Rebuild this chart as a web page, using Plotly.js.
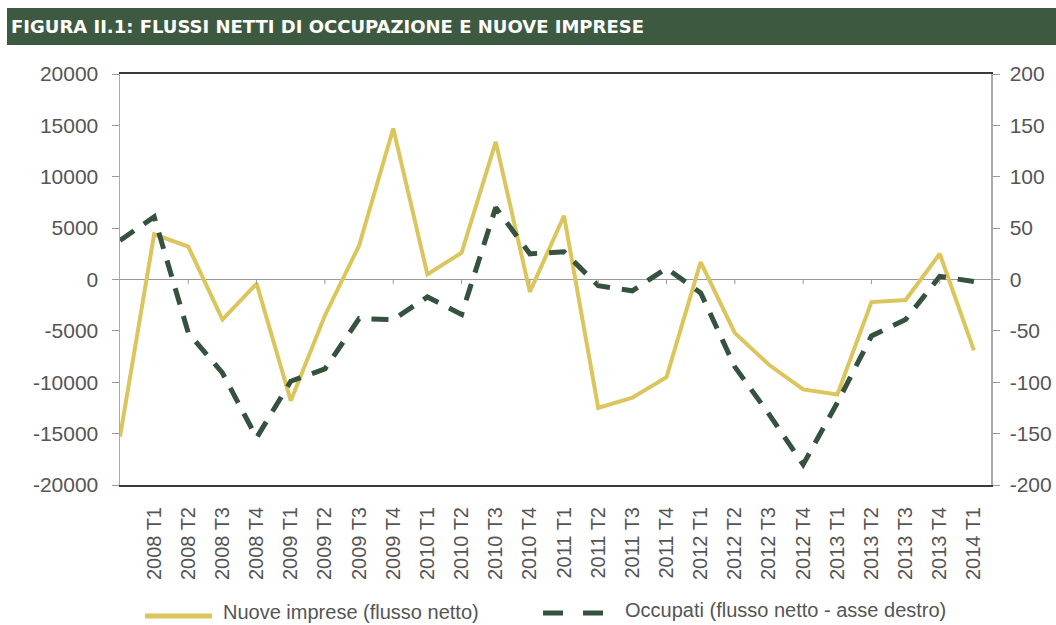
<!DOCTYPE html>
<html>
<head>
<meta charset="utf-8">
<script src="https://cdn.plot.ly/plotly-3.0.1.min.js"></script>
<style>
  html, body { margin: 0; padding: 0; background: #ffffff; }
  #chart { width: 1056px; height: 625px; }
</style>
</head>
<body>
<div id="chart"></div>
<script>
// Tick labels (the first plotted point, one quarter before 2008 T1, has no label)
const tickLabels = [
  "2008 T1","2008 T2","2008 T3","2008 T4",
  "2009 T1","2009 T2","2009 T3","2009 T4",
  "2010 T1","2010 T2","2010 T3","2010 T4",
  "2011 T1","2011 T2","2011 T3","2011 T4",
  "2012 T1","2012 T2","2012 T3","2012 T4",
  "2013 T1","2013 T2","2013 T3","2013 T4",
  "2014 T1"
];

// Nuove imprese (flusso netto) - left axis
const nuoveImprese = [
  -15300, 4400, 3200, -3900, -400, -11800, -3500, 3300, 14700, 500,
  2600, 13400, -1200, 6200, -12500, -11500, -9500, 1700, -5200, -8300,
  -10700, -11200, -2200, -2000, 2500, -6900
];

// Occupati (flusso netto - asse destro) - right axis
const occupati = [
  38, 61, -52, -91, -154, -99, -87, -38, -39, -17,
  -34, 70, 25, 27, -6, -11, 11, -13, -85, -131,
  -180, -120, -55, -39, 3, -2
];

const seriesNames = ["Nuove imprese (flusso netto)", "Occupati (flusso netto - asse destro)"];
const titleText = "FIGURA II.1: FLUSSI NETTI DI OCCUPAZIONE E NUOVE IMPRESE";

const leftTicks = [-20000, -15000, -10000, -5000, 0, 5000, 10000, 15000, 20000];
const leftTickText = ["-20000", "-15000", "-10000", "-5000", "0", "5000", "10000", "15000", "20000"];
const rightTicks = [-200, -150, -100, -50, 0, 50, 100, 150, 200];
const rightTickText = ["-200", "-150", "-100", "-50", "0", "50", "100", "150", "200"];

const xIdx = nuoveImprese.map((_, i) => i);
const tickVals = tickLabels.map((_, i) => i + 1);

const yellow = "#dcc55c";
const green = "#35523f";
const font = "Liberation Sans, Arial, sans-serif";
const textGrey = "#555555";

const traces = [
  {
    x: xIdx, y: nuoveImprese, type: "scatter", mode: "lines",
    name: seriesNames[0], line: { color: yellow, width: 4 },
    xaxis: "x", yaxis: "y", showlegend: false
  },
  {
    x: xIdx, y: occupati, type: "scatter", mode: "lines",
    name: seriesNames[1], line: { color: green, width: 5, dash: "17px,12px" },
    xaxis: "x", yaxis: "y2", showlegend: false
  }
];

// paper-coordinate helpers (plot area: x 120..991, y 74..485)
const L = 120, R = 991, T = 74, B = 485;
const px = v => (v - L) / (R - L);
const py = v => (B - v) / (B - T);

const shapes = [
  // title banner
  { type: "rect", xref: "paper", yref: "paper", layer: "below",
    x0: px(7), x1: px(1060), y0: py(45), y1: py(8),
    fillcolor: "#3d5a41", line: { width: 0 } },
  // legend samples
  { type: "line", xref: "paper", yref: "paper",
    x0: px(145), x1: px(212), y0: py(616), y1: py(616),
    line: { color: yellow, width: 5 } },
  { type: "line", xref: "paper", yref: "paper",
    x0: px(543), x1: px(563), y0: py(613), y1: py(613),
    line: { color: green, width: 5 } },
  { type: "line", xref: "paper", yref: "paper",
    x0: px(583), x1: px(603), y0: py(613), y1: py(613),
    line: { color: green, width: 5 } }
];

// small tick marks on the zero line, every second category
for (let i = 2; i < xIdx.length; i += 2) {
  shapes.push({ type: "line", xref: "x", yref: "y",
    x0: xIdx[i], x1: xIdx[i], y0: 0, y1: -450,
    line: { color: "#999999", width: 1 } });
}

const layout = {
  width: 1056, height: 625,
  paper_bgcolor: "#ffffff", plot_bgcolor: "#ffffff",
  margin: { l: L, r: 1056 - R, t: T, b: 625 - B, pad: 0 },
  showlegend: false,
  font: { family: font, color: textGrey, size: 20 },
  title: {
    text: "<b>" + titleText + "</b>",
    font: { family: "DejaVu Sans, sans-serif", size: 18, color: "#ffffff" },
    x: 11 / 1056, xanchor: "left", xref: "container",
    y: 1 - 27 / 625, yanchor: "middle", yref: "container"
  },
  xaxis: {
    range: [0, 25.5],
    tickmode: "array", tickvals: tickVals, ticktext: tickLabels,
    tickangle: -90, ticks: "", ticklabelstandoff: 12,
    tickfont: { family: font, size: 20, color: textGrey },
    showgrid: false, zeroline: false,
    showline: true, mirror: true, linecolor: "#3a3a3a", linewidth: 2
  },
  yaxis: {
    range: [-20000, 20000],
    tickmode: "array", tickvals: leftTicks, ticktext: leftTickText,
    ticks: "outside", ticklen: 7, tickcolor: "#999999", tickwidth: 1,
    ticklabelstandoff: 9,
    tickfont: { family: font, size: 21, color: textGrey },
    showgrid: false,
    zeroline: true, zerolinecolor: "#999999", zerolinewidth: 1.5,
    showline: true, linecolor: "#aaaaaa", linewidth: 1.5
  },
  yaxis2: {
    range: [-200, 200], overlaying: "y", side: "right",
    tickmode: "array", tickvals: rightTicks, ticktext: rightTickText,
    ticks: "outside", ticklen: 7, tickcolor: "#999999", tickwidth: 1,
    ticklabelstandoff: 6,
    tickfont: { family: font, size: 21, color: textGrey },
    showgrid: false, zeroline: false,
    showline: true, linecolor: "#aaaaaa", linewidth: 1.5
  },
  shapes: shapes,
  annotations: [
    { xref: "paper", yref: "paper", x: px(221), y: py(612),
      xanchor: "left", yanchor: "middle", showarrow: false,
      text: seriesNames[0], font: { family: font, size: 20, color: textGrey } },
    { xref: "paper", yref: "paper", x: px(623), y: py(610),
      xanchor: "left", yanchor: "middle", showarrow: false,
      text: seriesNames[1], font: { family: font, size: 20, color: textGrey } }
  ]
};

Plotly.newPlot("chart", traces, layout, { staticPlot: true, displayModeBar: false });
</script>
</body>
</html>
